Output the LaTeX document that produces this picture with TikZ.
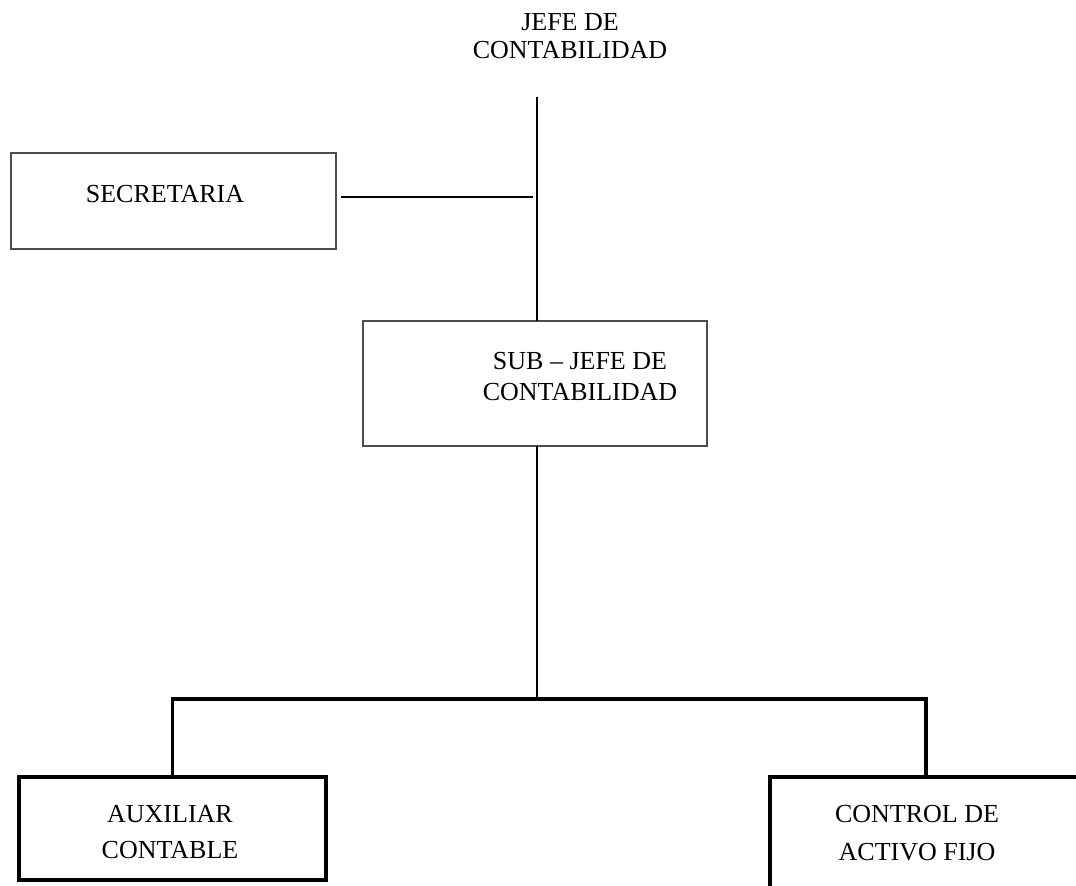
\documentclass[tikz,border=0pt]{standalone}
\usepackage{fontspec}
\setmainfont{Liberation Serif}
\begin{document}
\begin{tikzpicture}[x=0.75pt,y=-0.75pt,
  unitbox/.style={draw=black!70, line width=1pt, inner sep=0pt, outer sep=0pt, fill=none},
  boldbox/.style={draw=black, line width=2.5pt, inner sep=0pt, outer sep=0pt},
  thinline/.style={draw=black, line width=1.5pt},
  boldline/.style={draw=black, line width=2.5pt},
  lbl/.style={anchor=base, align=center, inner sep=0pt}]
\useasboundingbox (0,0) rectangle (1076,886);
\clip (0,0) rectangle (1076,886);

% boxes
\node[unitbox, minimum width=243.75pt, minimum height=72pt] (sec) at (173.5,201) {};
\node[unitbox, minimum width=258pt, minimum height=93.75pt] (sub) at (535,383.5) {};
\node[boldbox, minimum width=230.25pt, minimum height=77.25pt] (aux) at (172.5,828.5) {};
\node[boldbox, minimum width=234pt, minimum height=86.25pt] (ctl) at (926,834.5) {};

% labels (anchored on the baseline of their last line)
\node[lbl, font=\fontsize{19.5}{21}\selectfont] (jefe) at (570,58) {JEFE DE\\CONTABILIDAD};
\node[lbl, font=\fontsize{19.5}{21}\selectfont] (secl) at (165,202) {SECRETARIA};
\node[lbl, font=\fontsize{19.5}{23.25}\selectfont] (subl) at (580,400) {SUB – JEFE DE\\CONTABILIDAD};
\node[lbl, font=\fontsize{19.5}{27}\selectfont] (auxl) at (170,858) {AUXILIAR\\CONTABLE};
\node[lbl, font=\fontsize{19.5}{28.5}\selectfont] (ctll) at (917,860) {CONTROL DE\\ACTIVO FIJO};

% connector points
\coordinate (jtop) at (537,97);
\coordinate (s1) at (341,197);
\coordinate (s2) at (533,197);
\coordinate (hub) at (537,699);

% connectors
\draw[thinline] (jtop) -- (jtop |- sub.north);
\draw[thinline] (s1) -- (s2);
\draw[thinline] (hub |- sub.south) -- (hub);
\draw[boldline] (aux.north) |- (hub) -| (ctl.north);
\end{tikzpicture}
\end{document}
